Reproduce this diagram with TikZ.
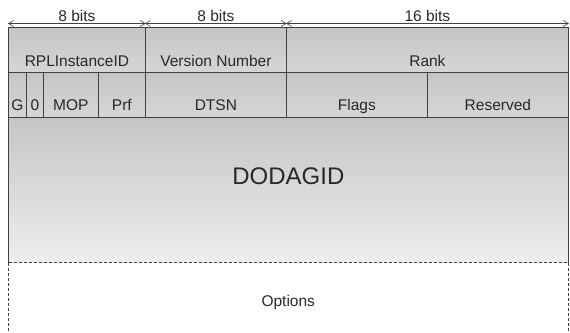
\documentclass[tikz,border=0pt]{standalone}
\usepackage{fontspec}
\setmainfont{Liberation Sans}
\usetikzlibrary{arrows.meta}

\definecolor{cellline}{RGB}{64,64,64}
\definecolor{celltext}{RGB}{40,40,40}
\definecolor{celltop}{RGB}{197,197,197}
\definecolor{cellbot}{RGB}{214,214,214}
\definecolor{dodagbot}{RGB}{238,238,238}

\tikzset{
  cell/.style={draw=cellline,line width=0.8pt,top color=celltop,bottom color=cellbot,
    anchor=north west,inner xsep=0pt,inner ysep=0pt,text=celltext,
    font=\fontsize{15.5}{18}\selectfont},
  rowone/.style={cell,text height=39pt,text depth=6pt},
  rowtwo/.style={cell,text height=38pt,text depth=7pt},
  dim/.style={{Straight Barb[length=5pt,width=6pt]}-{Straight Barb[length=5pt,width=6pt]},
    draw=cellline,line width=0.6pt},
  bitlabel/.style={midway,anchor=base,yshift=2pt,inner sep=0pt,text=celltext,
    font=\fontsize{15.5}{18}\selectfont}
}

\begin{document}
\begin{tikzpicture}[x=1pt,y=-1pt]
    \useasboundingbox (0,0) rectangle (570,332);

    % first row
    \node[rowone,minimum width=137pt] (rpl) at (8,27) {RPLInstanceID};
    \node[rowone,minimum width=141pt] (ver) at (145,27) {Version Number};
    \node[rowone,minimum width=282pt] (rank) at (286,27) {Rank};

    % second row
    \node[rowtwo,minimum width=18pt] (gflag) at (8,72) {G};
    \node[rowtwo,minimum width=17pt] (zero) at (26,72) {0};
    \node[rowtwo,minimum width=55pt] (mop) at (43,72) {MOP};
    \node[rowtwo,minimum width=47pt] (prf) at (98,72) {Prf};
    \node[rowtwo,minimum width=141pt] (dtsn) at (145,72) {DTSN};
    \node[rowtwo,minimum width=141pt] (flags) at (286,72) {Flags};
    \node[rowtwo,minimum width=141pt] (reserved) at (427,72) {Reserved};

    % DODAGID
    \node[cell,draw=none,middle color=celltop,bottom color=dodagbot,minimum width=560pt,
      text height=67pt,text depth=78pt,font=\fontsize{24}{28}\selectfont] (dodag) at (8,117) {DODAGID};
    \draw[cellline,line width=0.8pt] (dodag.south west) -- (dodag.north west) -- (dodag.north east) -- (dodag.south east);

    % Options
    \node[draw=cellline,line width=0.5pt,dash pattern=on 3pt off 2pt,anchor=north west,
      inner sep=0pt,minimum width=560pt,text height=44pt,text depth=40pt,text=celltext,
      font=\fontsize{15.5}{18}\selectfont] (opts) at (8,262) {Options};

    % field widths
    \draw[dim] ([yshift=3.5pt]rpl.north west) -- ([yshift=3.5pt]rpl.north east) node[bitlabel] {8 bits};
    \draw[dim] ([yshift=3.5pt]ver.north west) -- ([yshift=3.5pt]ver.north east) node[bitlabel] {8 bits};
    \draw[dim] ([yshift=3.5pt]rank.north west) -- ([yshift=3.5pt]rank.north east) node[bitlabel] {16 bits};
\end{tikzpicture}
\end{document}
